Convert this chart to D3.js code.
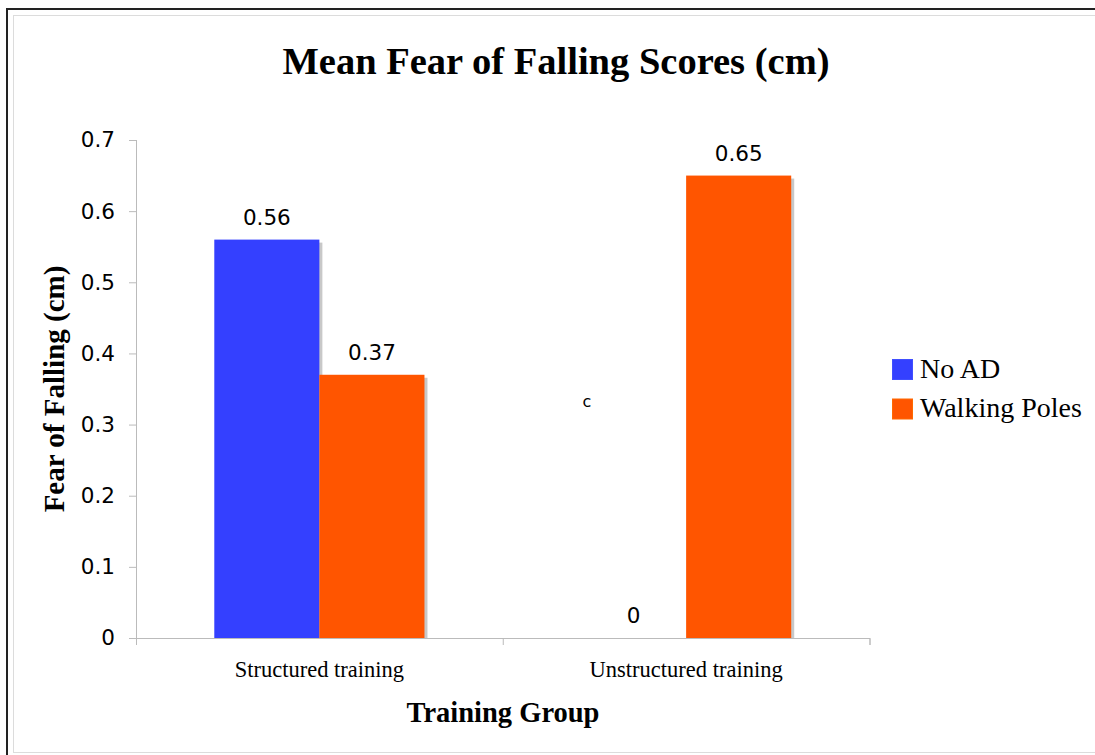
<!DOCTYPE html>
<html>
<head>
<meta charset="utf-8">
<script src="https://cdn.jsdelivr.net/npm/d3@7"></script>
<style>
  body { margin: 0; background: #fff; }
  svg { display: block; }
</style>
</head>
<body>
<svg id="chart" width="1095" height="755"></svg>
<script>
// Chart data
const groups = ['Structured training', 'Unstructured training'];
const seriesNames = ['No AD', 'Walking Poles'];
const noAD = [0.56, 0];
const walkingPoles = [0.37, 0.65];
const yTicks = [0, 0.1, 0.2, 0.3, 0.4, 0.5, 0.6, 0.7];
const colors = ['#3440ff', '#ff5500'];

const svg = d3.select('#chart');
const width = 1095;
const height = 755;
const margin = { top: 140, right: 226, bottom: 117, left: 136 };

const serif = '"Liberation Serif", "Times New Roman", serif';
const sans = '"DejaVu Sans", Verdana, sans-serif';

// Frame round the whole picture
svg.append('rect')
  .attr('x', 7).attr('y', 9)
  .attr('width', width + 20).attr('height', height + 20)
  .attr('fill', 'none')
  .attr('stroke', '#222')
  .attr('stroke-width', 2);

svg.append('rect')
  .attr('x', 13.5).attr('y', 15.5)
  .attr('width', width).attr('height', 737)
  .attr('fill', 'none')
  .attr('stroke', '#dcdcdc')
  .attr('stroke-width', 1);

// Build rows from the arrays
const rows = groups.map((g, i) => ({
  group: g,
  values: [noAD[i], walkingPoles[i]]
}));

const x = d3.scaleBand()
  .domain(groups)
  .range([margin.left, width - margin.right + 0.5])
  .paddingInner(0)
  .paddingOuter(0);

const xInner = d3.scaleBand()
  .domain(seriesNames)
  .range([0, x.bandwidth()])
  .paddingInner(0)
  .paddingOuter(0.745);

const y = d3.scaleLinear()
  .domain([0, 0.7])
  .range([height - margin.bottom, margin.top]);

// Title
svg.append('text')
  .attr('x', 556)
  .attr('y', 74)
  .attr('text-anchor', 'middle')
  .style('font', `bold 38.5px ${serif}`)
  .text('Mean Fear of Falling Scores (cm)');

// Y axis
svg.append('g')
  .attr('transform', `translate(${margin.left},0)`)
  .call(d3.axisLeft(y).tickValues(yTicks).tickSize(7).tickPadding(14).tickFormat(d => d === 0 ? '0' : d3.format('.1f')(d)))
  .call(g => g.select('.domain').remove())
  .call(g => g.selectAll('.tick line').attr('stroke', '#bbb'))
  .call(g => g.selectAll('.tick text').style('font', `21.5px ${sans}`).attr('fill', '#000'));

svg.append('line')
  .attr('x1', margin.left + 0.5).attr('x2', margin.left + 0.5)
  .attr('y1', y(0.7)).attr('y2', y(0) + 7)
  .attr('stroke', '#bbb');

// X axis: boundary ticks and category labels
const xEdges = d3.scaleLinear()
  .domain([0, groups.length])
  .range(x.range());

svg.append('g')
  .attr('transform', `translate(0,${y(0)})`)
  .call(d3.axisBottom(xEdges).ticks(groups.length).tickSize(7).tickFormat(''))
  .call(g => g.select('.domain').attr('stroke', '#bbb'))
  .call(g => g.selectAll('.tick line').attr('stroke', '#bbb'));

svg.append('g')
  .attr('transform', `translate(0,${y(0)})`)
  .call(d3.axisBottom(x).tickSize(0))
  .call(g => g.select('.domain').remove())
  .call(g => g.selectAll('.tick text')
    .attr('y', 39).attr('dy', 0)
    .attr('fill', '#000')
    .style('font', `22.5px ${serif}`));

// Axis titles
svg.append('text')
  .attr('x', 503)
  .attr('y', 722)
  .attr('text-anchor', 'middle')
  .style('font', `bold 28.5px ${serif}`)
  .text('Training Group');

svg.append('text')
  .attr('transform', 'translate(64,389) rotate(-90)')
  .attr('text-anchor', 'middle')
  .style('font', `bold 29px ${serif}`)
  .text('Fear of Falling (cm)');

// Bars with a small grey drop shadow
const groupG = svg.append('g')
  .selectAll('g')
  .data(rows)
  .join('g')
  .attr('transform', d => `translate(${x(d.group)},0)`);

const barData = d => d.values.map((v, i) => ({ name: seriesNames[i], value: v, color: colors[i] }));

groupG.selectAll('.shadow')
  .data(barData)
  .join('rect')
  .attr('class', 'shadow')
  .attr('x', d => xInner(d.name) + 3)
  .attr('y', d => y(d.value) + 3)
  .attr('width', xInner.bandwidth())
  .attr('height', d => Math.max(0, y(0) - y(d.value) - 3))
  .attr('fill', '#c8c8c8');

groupG.selectAll('.bar')
  .data(barData)
  .join('rect')
  .attr('class', 'bar')
  .attr('x', d => xInner(d.name))
  .attr('y', d => y(d.value))
  .attr('width', xInner.bandwidth())
  .attr('height', d => y(0) - y(d.value))
  .attr('fill', d => d.color);

// Value labels
groupG.selectAll('.label')
  .data(barData)
  .join('text')
  .attr('class', 'label')
  .attr('x', d => xInner(d.name) + xInner.bandwidth() / 2)
  .attr('y', d => y(d.value) - 15)
  .attr('text-anchor', 'middle')
  .style('font', `21.5px ${sans}`)
  .text(d => d.value === 0 ? '0' : d3.format('.2f')(d.value));

// Stray mark left in the original
svg.append('text')
  .attr('x', 587)
  .attr('y', 407)
  .attr('text-anchor', 'middle')
  .style('font', `16px ${sans}`)
  .text('c');

// Legend
const legend = svg.append('g')
  .attr('transform', 'translate(892,359)')
  .selectAll('g')
  .data(seriesNames)
  .join('g')
  .attr('transform', (d, i) => `translate(0,${i * 39.5})`);

legend.append('rect')
  .attr('x', 0.5).attr('y', 0.5)
  .attr('width', 20).attr('height', 20)
  .attr('fill', (d, i) => colors[i])
  .attr('stroke', (d, i) => d3.color(colors[i]).brighter(0.6))
  .attr('stroke-width', 1);

legend.append('text')
  .attr('x', 28)
  .attr('y', 18.5)
  .style('font', `28px ${serif}`)
  .text(d => d);
</script>
</body>
</html>
